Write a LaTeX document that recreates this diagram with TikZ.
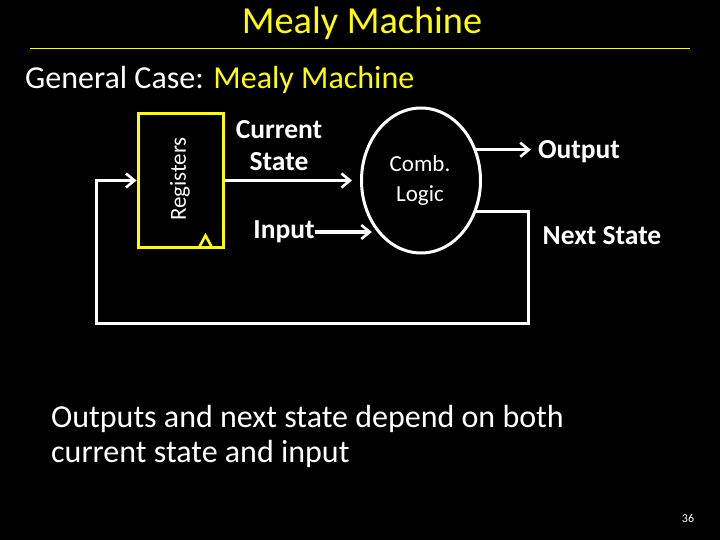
\documentclass[tikz,border=0pt]{standalone}
\usepackage{fontspec}
\setmainfont{Carlito}
\usetikzlibrary{shapes.geometric,arrows.meta}
\definecolor{slideyellow}{RGB}{255,255,0}

\begin{document}
\begin{tikzpicture}[x=1pt,y=-1pt,>={Straight Barb[length=8.5pt,width=14pt,line width=2.6pt]},
    every node/.style={text=white,inner sep=0pt},
    wire/.style={draw=white,line width=3pt},
    lbl/.style={font=\fontsize{27.5}{32}\selectfont\bfseries}]
                \fill[black] (0,0) rectangle (720,540);
                \useasboundingbox (0,0) rectangle (720,540);

                \node[text=slideyellow,font=\fontsize{38.3}{40}\selectfont] (title) at (362,23) {Mealy Machine};
                \draw[slideyellow,line width=0.8pt] (30,48) -- (690,48);
                \node[anchor=west,font=\fontsize{32}{34}\selectfont] (gen) at (25,80) {General Case: \textcolor{slideyellow}{Mealy Machine}};

                \node[draw=slideyellow,line width=3pt,minimum width=85pt,minimum height=133pt] (reg) at (180.5,180.5) {};
                \node[rotate=90,font=\fontsize{23}{25}\selectfont] (regtxt) at (180,179) {Registers};
                \draw[slideyellow,line width=2.6pt] ([xshift=-26pt]reg.south east) -- ([xshift=-19pt,yshift=13pt]reg.south east) -- ([xshift=-12pt]reg.south east);

                \node[ellipse,draw=white,line width=3pt,minimum width=119pt,minimum height=145pt] (logic) at (421,180.5) {};
                \node[align=center,font=\fontsize{23}{30}\selectfont] (logictxt) at (420,180) {Comb.\\Logic};

                \node[lbl,align=center] (cur) at (279,146) {Current\\State};
                \node[lbl] (inp) at (284,232) {Input};
                \node[lbl] (out) at (579,152) {Output};
                \node[lbl] (next) at (602,236) {Next State};

                \coordinate (fbr) at (528,323);
                \coordinate (fbl) at (96,323);

                \draw[wire,->] (reg.east) -- (logic.west) [shorten >=8pt];
                \draw[wire,->] (inp.east) -- (inp.east -| logic.233) [shorten >=8pt];
                \draw[wire,->] (logic.29) -- (logic.29 -| out.west) [shorten >=7pt];
                \draw[wire,->] (logic.-29) -| (fbr) -- (fbl) |- (reg.west);

                \node[anchor=north west,align=left,font=\fontsize{32}{35}\selectfont] (note) at (51,405) {Outputs and next state depend on both\\current state and input};
                \node[font=\fontsize{12}{14}\selectfont] (page) at (688,518) {36};
            \end{tikzpicture}
\end{document}
